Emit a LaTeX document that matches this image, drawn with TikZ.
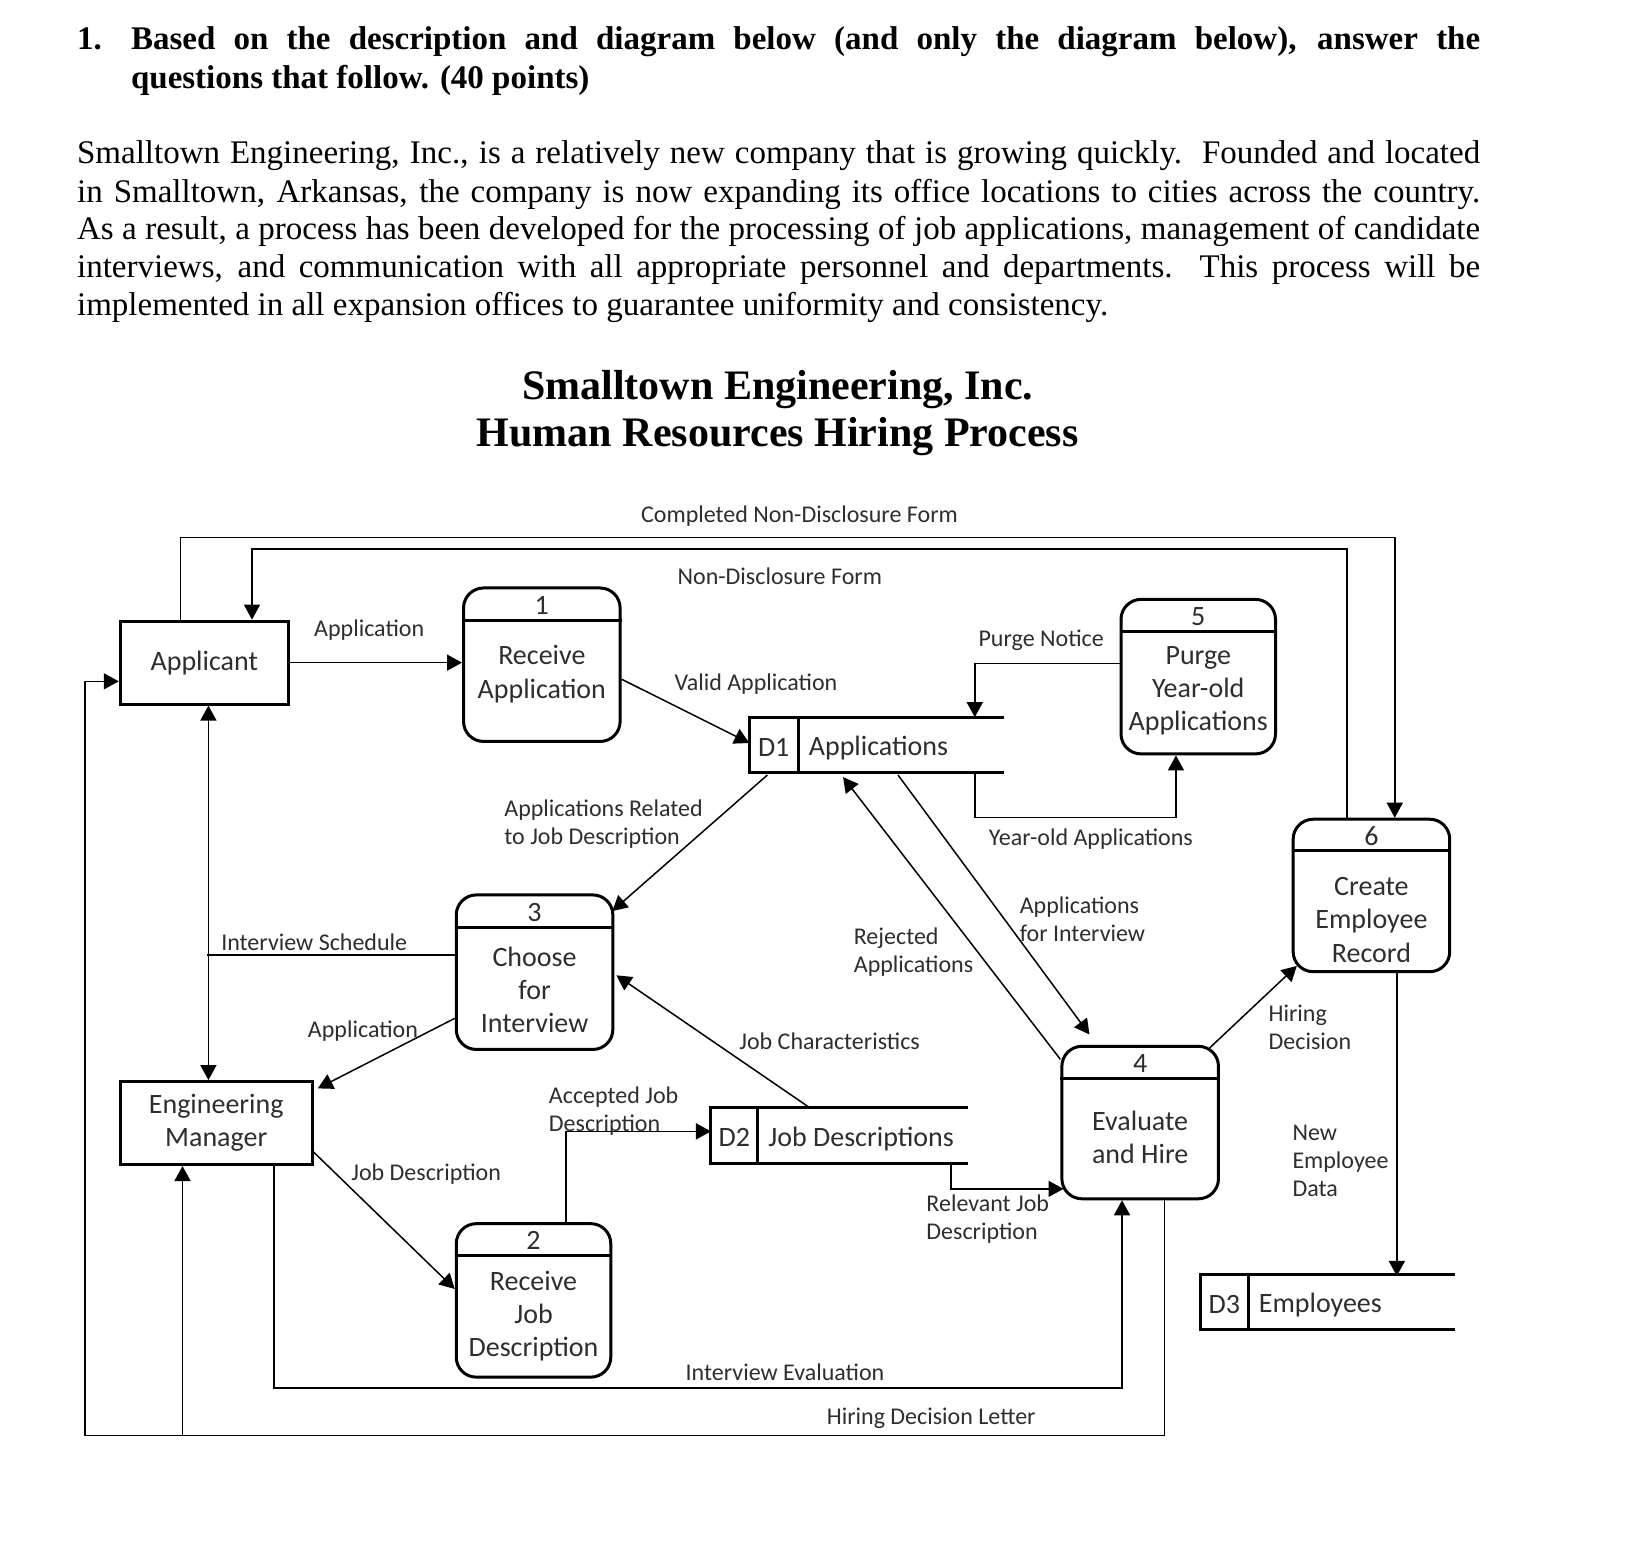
\documentclass[tikz,border=0pt]{standalone}
\usepackage{fontspec}
\setmainfont{Liberation Serif}
\newfontfamily\dfont{Carlito}
\usetikzlibrary{arrows.meta}
\def\pu{0.5185pt}
\definecolor{dgray}{HTML}{2E2E2E}
\newcommand\mkproc[8]{%
  \node[procbox, minimum width=#3*\pu, minimum height=#4*\pu] (#1) at #2 {};
  \draw[bord] ([shift={(0,#5)}]#1.north west) -- ([shift={(0,#5)}]#1.north east);
  \node[ntext] (#1n) at ([shift={(0,#5/2+2)}]#1.north) {#6};
  \node[ntext] (#1t) at #7 {#8};
}
\newcommand\mkstore[7]{%
  \node[inner sep=0pt, minimum width=#3*\pu, minimum height=#4*\pu] (#1) at #2 {};
  \draw[bord] (#1.north east) -- (#1.north west) -- (#1.south west) -- (#1.south east);
  \draw[bord] ([shift={(#5,0)}]#1.north west) -- ([shift={(#5,0)}]#1.south west);
  \node[ntext] (#1id) at ([shift={(#5/2,2)}]#1.west) {#6};
  \node[ntext, anchor=west] (#1lb) at ([shift={(#5+10,3)}]#1.west) {#7};
}
\tikzset{
  ent/.style={draw, line width=1.5pt, inner sep=0pt, font=\dfont\fontsize{14}{16.6}\selectfont, text=dgray, align=center},
  procbox/.style={draw, line width=1.5pt, rounded corners=10pt, inner sep=0pt},
  ntext/.style={font=\dfont\fontsize{14}{16.6}\selectfont, text=dgray, align=center, inner sep=0pt},
  lbl/.style={font=\dfont\fontsize{12}{14}\selectfont, text=dgray, inner sep=0pt, align=left},
  flow/.style={line width=0.75pt, -{Triangle[length=7.5pt,width=8pt]}},
  both/.style={line width=0.75pt, {Triangle[length=7.5pt,width=8pt]}-{Triangle[length=7.5pt,width=8pt]}},
  plainln/.style={line width=0.75pt},
  bord/.style={line width=1.5pt},
  hdr/.style={font=\bfseries\fontsize{16.5}{19}\selectfont, inner sep=0pt, anchor=base west},
  body/.style={font=\fontsize{16.5}{19}\selectfont, inner sep=0pt, anchor=base west},
  ttl/.style={font=\bfseries\fontsize{21}{25}\selectfont, inner sep=0pt, anchor=base},
}
\begin{document}
\begin{tikzpicture}[x=0.5185pt, y=-0.5185pt]
\useasboundingbox[fill=white] (0,0) rectangle (1568,1506.3);

% ---------- header text ----------
\node[hdr] (h0) at (74,48) {1.};
\node[hdr] (h1) at (126,48) {\makebox[674.6pt][s]{Based on the description and diagram below (and only the diagram below), answer the}};
\node[hdr] (h2) at (126,85) {questions that follow. (40 points)};
\node[body] (b1) at (74,158) {\makebox[701.5pt][s]{Smalltown Engineering, Inc., is a relatively new company that is growing quickly.\ \ Founded and located}};
\node[body] (b2) at (74,195) {\makebox[701.5pt][s]{in Smalltown, Arkansas, the company is now expanding its office locations to cities across the country.}};
\node[body] (b3) at (74,231) {\makebox[701.5pt][s]{As a result, a process has been developed for the processing of job applications, management of candidate}};
\node[body] (b4) at (74,268) {\makebox[701.5pt][s]{interviews, and communication with all appropriate personnel and departments.\ \ This process will be}};
\node[body] (b5) at (74,304) {implemented in all expansion offices to guarantee uniformity and consistency.};
\node[ttl] (t1) at (750,385) {Smalltown Engineering, Inc.};
\node[ttl] (t2) at (750,431) {Human Resources Hiring Process};

% ---------- entities ----------
\node[ent, minimum width=162*\pu, minimum height=80*\pu] (app) at (197,639) {Applicant};
\node[ent, minimum width=185*\pu, minimum height=80*\pu] (em) at (208.5,1083) {Engineering\\Manager};

% ---------- processes ----------
\mkproc{p1}{(522.5,641)}{151}{148}{33}{1}{(522.5,650)}{Receive\\Application}
\mkproc{p5}{(1155.5,652.5)}{149}{149}{32}{5}{(1155.5,666)}{Purge\\Year-old\\Applications}
\mkproc{p6}{(1322.5,863.5)}{151}{147}{32}{6}{(1322.5,887)}{Create\\Employee\\Record}
\mkproc{p3}{(515.5,937.5)}{151}{149}{33}{3}{(515.5,954.5)}{Choose\\for\\Interview}
\mkproc{p4}{(1099.5,1082.5)}{151}{147}{32}{4}{(1099.5,1096.5)}{Evaluate\\and Hire}
\mkproc{p2}{(514.5,1254)}{149}{148}{32}{2}{(514.5,1269)}{Receive\\Job\\Description}

% ---------- data stores ----------
\mkstore{d1}{(845.5,718.5)}{245}{53}{47}{D1}{Applications}
\mkstore{d2}{(809.5,1095)}{247}{54}{45}{D2}{Job Descriptions}
\mkstore{d3}{(1280.5,1255.5)}{245}{53}{46}{D3}{Employees}

% ---------- flows ----------
\draw[flow] ([shift={(-23,0)}]app.north) -- ++(0,-79) -| ([shift={(22.5,0)}]p6.north);
\node[lbl] (lcndf) at (771,498) {Completed Non-Disclosure Form};

\draw[flow] ([shift={(-23.5,0)}]p6.north) -- ++(0,-259) -| ([shift={(46,0)}]app.north);
\node[lbl] (lndf) at (752,556) {Non-Disclosure Form};

\draw[flow] (app.east) -- (app.east -| p1.west);
\node[lbl] (lapp) at (356,608) {Application};

\draw[flow] ([shift={(0,14)}]p1.east) -- ([shift={(0,-2)}]d1.west);
\node[lbl] (lva) at (729,660) {Valid Application};

\draw[flow] ([shift={(0,-12.5)}]p5.west) -| ([shift={(94.5,0)}]d1.north);
\node[lbl] (lpn) at (1004,617) {Purge Notice};

\draw[flow] ([shift={(94.5,0)}]d1.south) -- ++(0,43) -| ([shift={(-21.5,0)}]p5.south);
\node[lbl] (lyoa) at (1052,809) {Year-old Applications};

\draw[flow] ([shift={(-105.5,2)}]d1.south) -- ([shift={(-2,17)}]p3.north east);
\node[lbl, anchor=west] (larj) at (486,794.5) {Applications Related\\to Job Description};

\draw[flow] ([shift={(0,14)}]p4.north west) -- ([shift={(-32.5,4)}]d1.south);
\node[lbl, anchor=west] (lrej) at (823,918.5) {Rejected\\Applications};

\draw[flow] ([shift={(20.5,2)}]d1.south) -- ([shift={(28,-10)}]p4.north west);
\node[lbl, anchor=west] (lafi) at (983,886.5) {Applications\\for Interview};

\draw[both] ([shift={(4,0)}]app.south) -- ([shift={(-7.5,0)}]em.north);
\draw[plainln] ([shift={(0,-16.5)}]p3.west) -- ++(-239,0);
\node[lbl] (lis) at (303,909) {Interview Schedule};

\draw[flow] ([shift={(0,44.5)}]p3.west) -- ([shift={(4,8)}]em.north east);
\node[lbl] (lapp2) at (350,994) {Application};

\draw[flow] ([shift={(-29.5,0)}]d2.north) -- ([shift={(2,3)}]p3.east);
\node[lbl] (ljc) at (800,1004) {Job Characteristics};

\draw[flow] ([shift={(0,28)}]em.east) -- ([shift={(0,-11)}]p2.west);
\node[lbl] (ljd) at (411,1132) {Job Description};

\draw[flow] ([shift={(31.5,0)}]p2.north) |- ([shift={(0,-4)}]d2.west);
\node[lbl, anchor=west] (lajd) at (529,1071.5) {Accepted Job\\Description};

\draw[flow] ([shift={(107.5,0)}]d2.south) |- ([shift={(3,-11)}]p4.south west);
\node[lbl, anchor=west] (lrjd) at (893,1175.5) {Relevant Job\\Description};

\draw[flow] ([shift={(55.5,0)}]em.south) -- ++(0,214) -| ([shift={(-17.5,0)}]p4.south);
\node[lbl] (lie) at (757,1323) {Interview Evaluation};

\draw[flow] ([shift={(23.5,0)}]p4.south) -- ++(0,227) -- ++(-1041,0) |- ([shift={(0,18)}]app.west);
\draw[flow] ([shift={(-32.5,260)}]em.south) -- ([shift={(-32.5,0)}]em.south);
\node[lbl] (lhdl) at (898,1368) {Hiring Decision Letter};

\draw[flow] ([shift={(-10,3)}]p4.north east) -- ([shift={(5,-7)}]p6.south west);
\node[lbl, anchor=west] (lhd) at (1223,990.5) {Hiring\\Decision};

\draw[flow] ([shift={(24.5,0)}]p6.south) -- ++(0,292);
\node[lbl, anchor=west] (lned) at (1246,1119.5) {New\\Employee\\Data};
\end{tikzpicture}
\end{document}
